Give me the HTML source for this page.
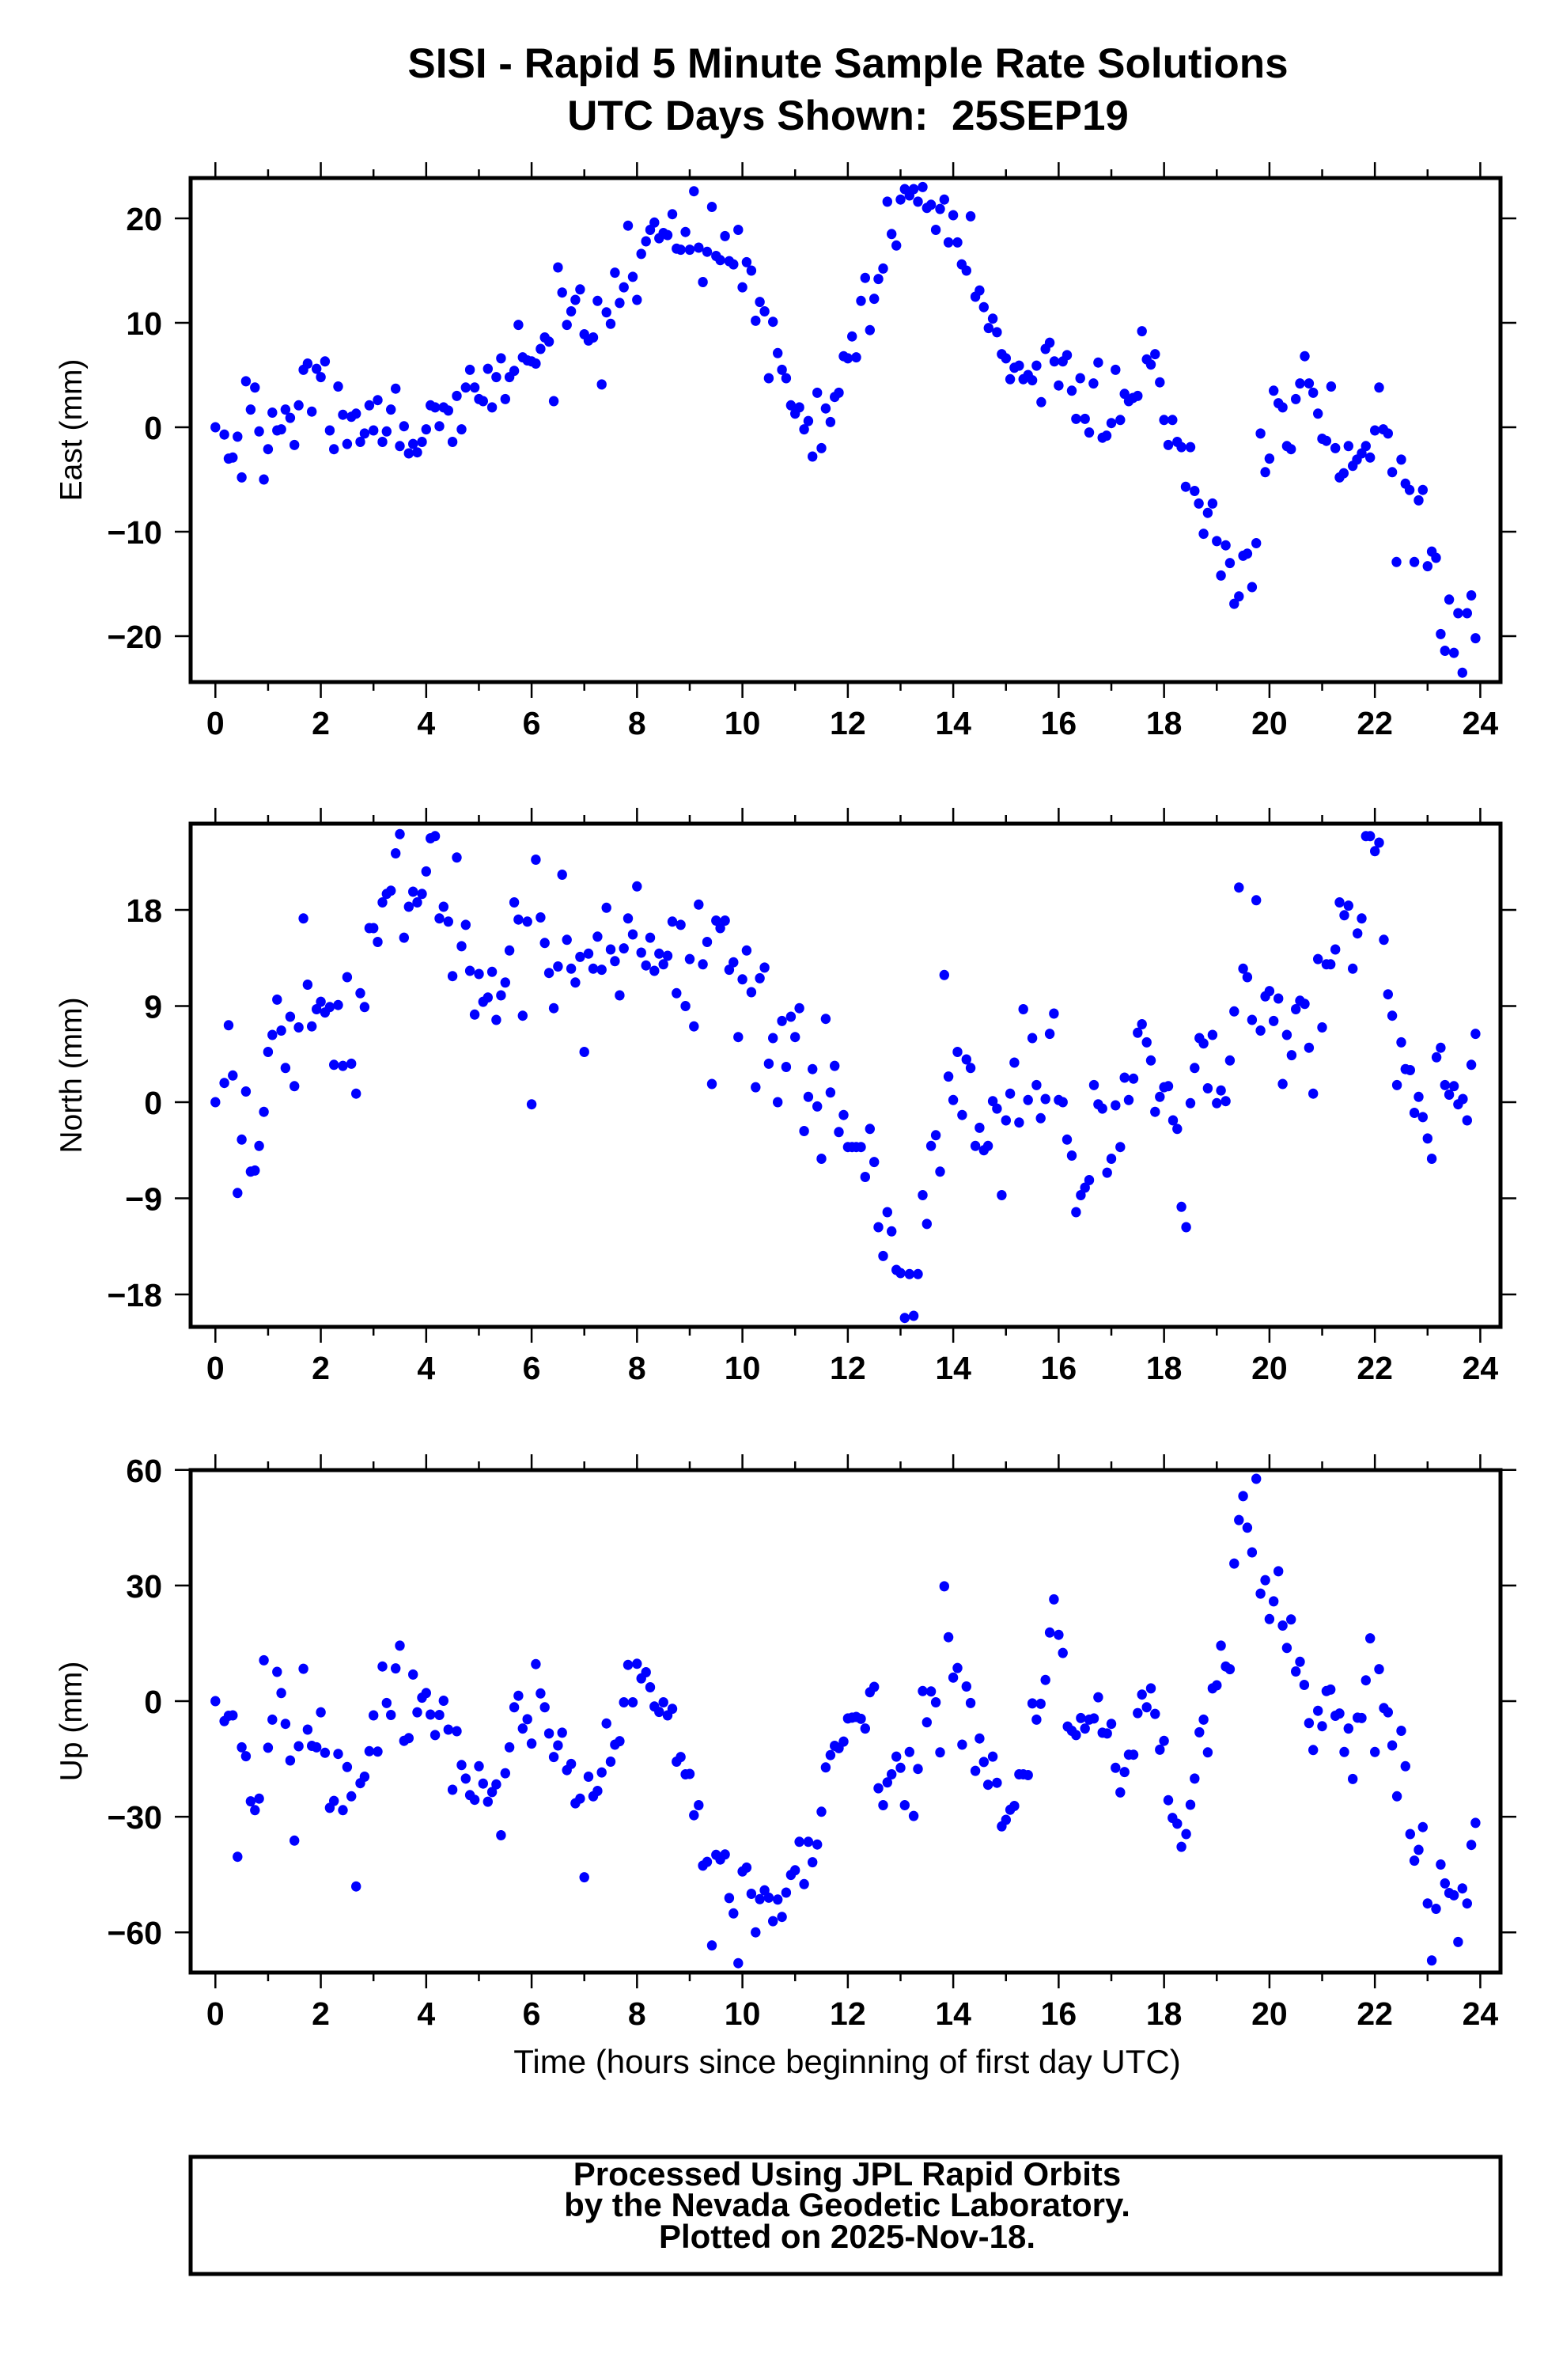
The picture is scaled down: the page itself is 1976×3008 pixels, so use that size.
<!DOCTYPE html>
<html>
<head>
<meta charset="utf-8">
<style>
html,body{margin:0;padding:0;background:#fff;}
svg{display:block;}
text{font-family:"Liberation Sans",Arial,sans-serif;fill:#000;}
.tick{font-size:41px;font-weight:bold;}
.ttl{font-size:53px;font-weight:bold;}
.axt{font-size:39px;}
.xaxt{font-size:42px;}
.foot{font-size:42px;font-weight:bold;}
</style>
</head>
<body>
<svg id="chart" width="1976" height="3008" viewBox="0 0 1976 3008" xmlns="http://www.w3.org/2000/svg">
<rect x="0" y="0" width="1976" height="3008" fill="#fff"/>
<text class="ttl" x="1072" y="98" text-anchor="middle">SISI - Rapid 5 Minute Sample Rate Solutions</text>
<text class="ttl" x="1072" y="164" text-anchor="middle">UTC Days Shown:&#160; 25SEP19</text>
<text class="xaxt" x="1071" y="2620" text-anchor="middle">Time (hours since beginning of first day UTC)</text>
<g>
<rect x="241" y="2726" width="1656" height="148" fill="none" stroke="#000" stroke-width="5"/>
<text class="foot" x="1071" y="2762" text-anchor="middle">Processed Using JPL Rapid Orbits</text>
<text class="foot" x="1071" y="2801" text-anchor="middle">by the Nevada Geodetic Laboratory.</text>
<text class="foot" x="1071" y="2841" text-anchor="middle">Plotted on 2025-Nov-18.</text>
</g>
</svg>
<script>
const xTicks = [0,2,4,6,8,10,12,14,16,18,20,22,24];
const eastTicks = [-20,-10,0,10,20];
const northTicks = [-18,-9,0,9,18];
const upTicks = [-60,-30,0,30,60];

const eastT = [0,.17,.25,.33,.42,.5,.58,.67,.75,.83,.92,1.0,1.08,1.17,1.25,1.33,1.42,1.5,1.58,1.67,1.75,1.83,1.92,2.0,2.08,2.17,2.25,2.33,2.42,2.5,2.58,2.67,2.75,2.83,2.92,3.0,3.08,3.17,3.25,3.33,3.42,3.5,3.58,3.67,3.75,3.83,3.92,4.0,4.08,4.17,4.25,4.33,4.42,4.5,4.58,4.67,4.75,4.83,4.92,5.0,5.08,5.17,5.25,5.33,5.42,5.5,5.58,5.67,5.75,5.83,5.92,6.0,6.08,6.17,6.25,6.33,6.42,6.5,6.58,6.67,6.75,6.83,6.92,7.0,7.08,7.17,7.25,7.33,7.42,7.5,7.58,7.67,7.75,7.83,7.92,8.0,8.08,8.17,8.25,8.33,8.42,8.5,8.58,8.67,8.75,8.83,8.92,9.0,9.08,9.17,9.25,9.33,9.42,9.5,9.58,9.67,9.75,9.83,9.92,10.0,10.08,10.17,10.25,10.33,10.42,10.5,10.58,10.67,10.75,10.83,10.92,11.0,11.08,11.17,11.25,11.33,11.42,11.5,11.58,11.67,11.75,11.83,11.92,12.0,12.08,
12.16,12.25,12.33,12.42,12.5,12.58,12.67,12.75,12.83,12.92,13.0,13.08,13.17,13.25,13.33,13.42,13.5,13.58,13.67,13.75,13.83,13.91,14.0,14.08,14.16,14.25,14.33,14.42,14.5,14.58,14.67,14.75,14.83,14.92,15.0,15.08,15.16,15.25,15.33,15.42,15.5,15.58,15.67,15.75,15.83,15.92,16.0,16.08,16.16,16.25,16.33,16.41,16.5,16.58,16.66,16.75,16.83,16.91,17.0,17.08,17.17,17.25,17.33,17.41,17.5,17.58,17.67,17.75,17.83,17.92,18.0,18.08,18.16,18.25,18.33,18.41,18.5,18.58,18.66,18.75,18.83,18.92,19.0,19.08,19.17,19.25,19.33,19.42,19.5,19.58,19.67,19.75,19.83,19.92,20.0,20.08,20.17,20.25,20.33,20.41,20.5,20.58,20.67,20.75,20.83,20.92,21.0,21.08,21.17,21.25,21.33,21.41,21.5,21.58,21.66,21.75,21.83,21.91,22.0,22.08,22.16,22.25,22.33,22.41,22.5,22.58,22.66,22.75,22.83,22.91,23.0,23.08,23.16,23.25,23.33,23.41,23.5,23.58,23.66,23.75,23.83,23.91];
const eastV = [0,-.7,-3.0,-2.9,-.9,-4.8,4.4,1.7,3.8,-.4,-5.0,-2.1,1.4,-.3,-.2,1.7,.9,-1.7,2.1,5.5,6.1,1.5,5.6,4.8,6.3,-.3,-2.1,3.9,1.2,-1.6,1.0,1.3,-1.4,-.6,2.1,-.3,2.6,-1.4,-.4,1.7,3.7,-1.8,.1,-2.5,-1.6,-2.4,-1.4,-.2,2.1,1.9,.1,1.9,1.6,-1.4,3.0,-.2,3.8,5.5,3.8,2.7,2.5,5.6,1.9,4.8,6.6,2.7,4.8,5.4,9.8,6.7,6.4,6.3,6.1,7.5,8.6,8.2,2.5,15.3,12.9,9.8,11.1,12.2,13.2,8.9,8.3,8.6,12.1,4.1,11.0,9.9,14.8,11.9,13.4,19.3,14.4,12.2,16.6,17.8,18.9,19.6,18.1,18.6,18.4,20.4,17.1,17.0,18.7,17.0,22.6,17.2,13.9,16.8,21.1,16.4,16.0,18.3,15.9,15.6,18.9,13.4,15.8,15.0,10.2,12.0,11.1,4.7,10.1,7.1,5.5,4.7,2.1,1.3,1.9,-.2,.6,-2.8,3.3,-2.0,1.8,.5,2.9,3.3,6.8,6.6,8.7,
6.7,12.1,14.3,9.3,12.3,14.2,15.2,21.6,18.5,17.4,21.8,22.8,22.2,22.8,21.6,23.0,21.0,21.3,18.9,20.9,21.8,17.7,20.3,17.7,15.6,15.0,20.2,12.5,13.1,11.5,9.5,10.4,9.1,7.0,6.6,4.6,5.7,5.9,4.6,5.0,4.5,5.9,2.4,7.5,8.1,6.3,4.0,6.3,6.9,3.5,.8,4.7,.8,-.5,4.2,6.2,-1.0,-.8,.4,5.5,.7,3.2,2.5,2.8,3.0,9.2,6.5,6.0,7.0,4.3,.7,-1.7,.7,-1.4,-1.9,-5.7,-1.9,-6.1,-7.3,-10.2,-8.2,-7.3,-10.9,-14.2,-11.3,-13.0,-16.9,-16.2,-12.3,-12.1,-15.3,-11.1,-.6,-4.3,-3.0,3.5,2.3,1.9,-1.8,-2.1,2.7,4.2,6.8,4.2,3.3,1.3,-1.1,-1.3,3.9,-2.0,-4.8,-4.4,-1.8,-3.7,-3.1,-2.5,-1.8,-2.9,-.3,3.8,-.2,-.6,-4.3,-12.9,-3.1,-5.4,-6.0,-12.9,-7.0,-6.0,-13.3,-11.9,-12.5,-19.8,-21.4,-16.5,-21.6,-17.8,-23.5,-17.8,-16.1,-20.2];

const northT = [0,.17,.25,.33,.42,.5,.58,.67,.75,.83,.92,1.0,1.08,1.17,1.25,1.33,1.42,1.5,1.58,1.67,1.75,1.83,1.92,2.0,2.08,2.17,2.25,2.33,2.42,2.5,2.58,2.67,2.75,2.83,2.92,3.0,3.08,3.17,3.25,3.33,3.42,3.5,3.58,3.67,3.75,3.83,3.92,4.0,4.08,4.17,4.25,4.33,4.42,4.5,4.58,4.67,4.75,4.83,4.92,5.0,5.08,5.17,5.25,5.33,5.42,5.5,5.58,5.67,5.75,5.83,5.92,6.0,6.08,6.17,6.25,6.33,6.42,6.5,6.58,6.67,6.75,6.83,6.92,7.0,7.08,7.17,7.25,7.33,7.42,7.5,7.58,7.67,7.75,7.83,7.92,8.0,8.08,8.17,8.25,8.33,8.42,8.5,8.58,8.67,8.75,8.83,8.92,9.0,9.08,9.17,9.25,9.33,9.42,9.5,9.58,9.67,9.75,9.83,9.92,10.0,10.08,10.17,10.25,10.33,10.42,10.5,10.58,10.67,10.75,10.83,10.92,11.0,11.08,11.17,11.25,11.33,11.42,11.5,11.58,11.67,11.75,11.83,11.92,12.0,12.08,
12.16,12.25,12.33,12.42,12.5,12.58,12.67,12.75,12.83,12.92,13.0,13.08,13.17,13.25,13.33,13.42,13.5,13.58,13.67,13.75,13.83,13.91,14.0,14.08,14.17,14.25,14.33,14.42,14.5,14.58,14.66,14.75,14.83,14.92,15.0,15.08,15.16,15.25,15.33,15.42,15.5,15.58,15.66,15.75,15.83,15.91,16.0,16.08,16.16,16.25,16.33,16.42,16.5,16.58,16.67,16.75,16.83,16.92,17.0,17.08,17.17,17.25,17.33,17.42,17.5,17.58,17.67,17.75,17.83,17.92,18.0,18.08,18.17,18.25,18.33,18.42,18.5,18.58,18.67,18.75,18.83,18.92,19.0,19.08,19.17,19.25,19.33,19.42,19.5,19.58,19.67,19.75,19.83,19.92,20.0,20.08,20.17,20.25,20.33,20.42,20.5,20.58,20.67,20.75,20.83,20.92,21.0,21.08,21.16,21.25,21.33,21.42,21.5,21.58,21.67,21.75,21.83,21.91,22.0,22.08,22.17,22.25,22.33,22.42,22.5,22.58,22.67,22.75,22.83,22.91,23.0,23.08,23.17,23.25,23.33,23.41,23.5,23.58,23.67,23.75,23.83,23.91];
const northV = [0,1.8,7.2,2.5,-8.5,-3.5,1.0,-6.5,-6.4,-4.1,-.9,4.7,6.3,9.6,6.7,3.2,8.0,1.5,7.0,17.2,11.0,7.1,8.7,9.4,8.4,8.9,3.5,9.1,3.4,11.7,3.6,.8,10.2,8.9,16.3,16.3,15.0,18.7,19.5,19.8,23.3,25.1,15.4,18.3,19.7,18.7,19.5,21.6,24.7,24.9,17.2,18.3,16.9,11.8,22.9,14.6,16.6,12.3,8.2,12.0,9.4,9.8,12.2,7.7,10.0,11.2,14.2,18.7,17.1,8.1,16.9,-.2,22.7,17.3,14.9,12.1,8.8,12.7,21.3,15.2,12.5,11.2,13.6,4.7,13.9,12.5,15.5,12.4,18.2,14.3,13.2,10.0,14.4,17.2,15.7,20.2,14.0,12.8,15.4,12.3,13.9,12.9,13.7,16.9,10.2,16.6,9.0,13.4,7.1,18.5,12.9,15.0,1.7,17.0,16.3,17.0,12.4,13.1,6.1,11.5,14.2,10.3,1.4,11.6,12.6,3.6,6.0,0,7.6,3.3,8.0,6.1,8.8,-2.7,.5,3.1,-.4,-5.3,7.8,.9,3.4,-2.8,-1.2,-4.2,-4.2,
-4.2,-4.2,-7.0,-2.5,-5.6,-11.7,-14.4,-10.3,-12.1,-15.7,-16.0,-20.2,-16.1,-20.0,-16.1,-8.7,-11.4,-4.1,-3.1,-6.5,11.9,2.4,.2,4.7,-1.2,4.0,3.2,-4.1,-2.4,-4.5,-4.1,.1,-.6,-8.7,-1.7,.8,3.7,-1.9,8.7,.2,6.0,1.6,-1.5,.3,6.4,8.3,.2,0,-3.5,-5.0,-10.3,-8.7,-8.0,-7.3,1.6,-.2,-.6,-6.6,-5.3,-.3,-4.2,2.3,.2,2.2,6.5,7.3,5.6,3.9,-.9,.5,1.4,1.5,-1.7,-2.5,-9.8,-11.7,-.1,3.2,6.0,5.5,1.3,6.3,-.1,1.1,.1,3.9,8.5,20.1,12.5,11.7,7.7,18.9,6.7,9.9,10.4,7.6,9.7,1.7,6.3,4.4,8.7,9.5,9.2,5.1,.8,13.4,7.0,12.9,12.9,14.3,18.7,17.5,18.4,12.5,15.8,17.2,24.9,24.9,23.5,24.3,15.2,10.1,8.1,1.6,5.6,3.1,3.0,-1.0,.5,-1.4,-3.4,-5.3,4.2,5.1,1.6,.7,1.5,-.2,.3,-1.7,3.5,6.4];

const upT = [0,.17,.25,.33,.42,.5,.58,.67,.75,.83,.92,1.0,1.08,1.17,1.25,1.33,1.42,1.5,1.58,1.67,1.75,1.83,1.92,2.0,2.08,2.17,2.25,2.33,2.42,2.5,2.58,2.67,2.75,2.83,2.92,3.0,3.08,3.17,3.25,3.33,3.42,3.5,3.58,3.67,3.75,3.83,3.92,4.0,4.08,4.17,4.25,4.33,4.42,4.5,4.58,4.67,4.75,4.83,4.92,5.0,5.08,5.17,5.25,5.33,5.42,5.5,5.58,5.67,5.75,5.83,5.92,6.0,6.08,6.17,6.25,6.33,6.42,6.5,6.58,6.67,6.75,6.83,6.92,7.0,7.08,7.17,7.25,7.33,7.42,7.5,7.58,7.67,7.75,7.83,7.92,8.0,8.08,8.17,8.25,8.33,8.42,8.5,8.58,8.67,8.75,8.83,8.92,9.0,9.08,9.17,9.25,9.33,9.42,9.5,9.58,9.67,9.75,9.83,9.92,10.0,10.08,10.17,10.25,10.33,10.42,10.5,10.58,10.67,10.75,10.83,10.92,11.0,11.08,11.17,11.25,11.33,11.42,11.5,11.58,11.67,11.75,11.83,11.92,12.0,12.08,
12.16,12.25,12.33,12.42,12.5,12.58,12.67,12.75,12.83,12.92,13.0,13.08,13.17,13.25,13.33,13.42,13.5,13.58,13.67,13.75,13.83,13.91,14.0,14.08,14.17,14.25,14.33,14.42,14.5,14.58,14.66,14.75,14.83,14.92,15.0,15.08,15.16,15.25,15.33,15.42,15.5,15.58,15.66,15.75,15.83,15.91,16.0,16.08,16.17,16.25,16.33,16.42,16.5,16.58,16.67,16.75,16.83,16.92,17.0,17.08,17.17,17.25,17.33,17.42,17.5,17.58,17.67,17.75,17.83,17.92,18.0,18.08,18.16,18.25,18.33,18.42,18.5,18.58,18.67,18.75,18.83,18.92,19.0,19.08,19.17,19.25,19.33,19.42,19.5,19.58,19.67,19.75,19.83,19.92,20.0,20.08,20.17,20.25,20.33,20.41,20.5,20.58,20.66,20.75,20.83,20.92,21.0,21.08,21.16,21.25,21.33,21.42,21.5,21.58,21.67,21.75,21.83,21.91,22.0,22.08,22.17,22.25,22.33,22.42,22.5,22.58,22.67,22.75,22.83,22.91,23.0,23.08,23.16,23.25,23.33,23.41,23.5,23.58,23.66,23.75,23.83,23.91];
const upV = [0,-5.2,-3.8,-3.7,-40.4,-12.0,-14.3,-26.0,-28.3,-25.3,10.6,-12.1,-4.8,7.6,2.1,-5.9,-15.4,-36.2,-11.7,8.4,-7.4,-11.6,-12.0,-2.9,-13.4,-27.7,-25.9,-13.7,-28.3,-17.1,-24.7,-48.1,-21.3,-19.6,-13.0,-3.7,-13.1,9.0,-.5,-3.6,8.5,14.4,-10.3,-9.6,6.9,-2.9,.9,2.1,-3.5,-8.8,-3.6,.1,-7.4,-23.0,-7.8,-16.6,-20.1,-24.4,-25.6,-16.9,-21.4,-26.1,-23.6,-21.6,-34.8,-18.7,-12.0,-1.6,1.4,-7.1,-4.7,-11.0,9.6,2.0,-1.6,-8.4,-14.5,-11.5,-8.2,-17.9,-16.3,-26.5,-25.3,-45.7,-19.6,-24.7,-23.3,-18.5,-5.8,-15.7,-11.3,-10.4,-.3,9.4,-.3,9.7,5.9,7.5,3.6,-1.4,-2.8,-.3,-3.7,-2.0,-15.7,-14.5,-19.0,-18.9,-29.6,-27.0,-42.7,-41.7,-63.4,-39.9,-41.1,-39.8,-51.1,-55.1,-68.0,-44.2,-43.2,-50.0,-60.0,-51.4,-49.1,-51.0,-57.1,-51.5,-56.0,-49.7,-45.1,-43.9,-36.5,-47.5,-36.5,-41.8,-37.2,-28.7,-17.2,-14.0,-11.6,-12.2,-10.5,-4.5,-4.3,
-4.1,-4.6,-7.1,2.3,3.7,-22.6,-27.0,-21.1,-19.0,-14.4,-17.3,-27.0,-13.2,-29.8,-17.6,2.6,-5.5,2.5,-.3,-13.3,29.8,16.6,6.1,8.6,-11.3,3.8,-.5,-18.1,-9.7,-15.8,-21.7,-14.4,-21.2,-32.5,-30.8,-28.2,-27.2,-19.0,-19.0,-19.2,-.6,-4.8,-.7,5.5,17.8,26.4,17.2,12.5,-6.6,-7.7,-8.8,-4.4,-7.1,-4.8,-4.5,1.0,-8.2,-8.4,-5.9,-17.3,-23.7,-18.4,-13.9,-13.9,-3.1,1.7,-1.6,3.3,-3.3,-12.6,-10.3,-25.7,-30.3,-31.8,-37.8,-34.5,-26.9,-20.1,-8.1,-4.8,-13.3,3.3,4.1,14.4,9.0,8.3,35.7,47.0,53.2,45.0,38.6,57.7,27.9,31.4,21.3,25.9,33.7,19.6,13.8,21.2,7.7,10.2,4.2,-5.7,-12.7,-2.5,-6.5,2.6,3.0,-3.8,-3.2,-13.2,-7.1,-20.2,-4.3,-4.4,5.4,16.3,-13.2,8.3,-1.8,-2.9,-11.5,-24.7,-7.7,-16.9,-34.5,-41.4,-38.6,-32.7,-52.5,-67.3,-53.9,-42.4,-47.3,-49.8,-50.4,-62.5,-48.6,-52.5,-37.3,-31.6];

const NS = 'http://www.w3.org/2000/svg';
const svg = document.getElementById('chart');
const LEFT = 241, RIGHT = 1897;
function xScale(h){ return 272.3 + 66.63*h; }
function mk(tag, attrs, parent){
  const e = document.createElementNS(NS, tag);
  for (const k in attrs) e.setAttribute(k, attrs[k]);
  (parent||svg).appendChild(e);
  return e;
}
const panels = [
  {key:'east', title:'East (mm)', top:225, bottom:862, zero:540, scale:13.2, ticks:eastTicks, T:eastT, V:eastV},
  {key:'north', title:'North (mm)', top:1041, bottom:1677, zero:1393, scale:13.5, ticks:northTicks, T:northT, V:northV},
  {key:'up', title:'Up (mm)', top:1858, bottom:2493, zero:2150, scale:4.87, ticks:upTicks, T:upT, V:upV}
];
panels.forEach(p => {
  const g = mk('g', {});
  
  
  const yScale = v => p.zero - p.scale*v;
  const pg = mk('g', {fill:'#0000ff'}, g);
  
  
  for (let i=0;i<p.T.length;i++){
    const c = mk('ellipse', {cx:xScale(p.T[i]).toFixed(1), cy:yScale(p.V[i]).toFixed(1), rx:6.2, ry:6.5}, pg);
    
    
  }
  const fr = mk('rect', {x:LEFT, y:p.top, width:RIGHT-LEFT, height:p.bottom-p.top, fill:'none', stroke:'#000', 'stroke-width':5}, g);
  
  
  const xg = mk('g', {stroke:'#000', 'stroke-width':2.5}, g);
  
  
  for (let h=0; h<=24; h++){
    const x = xScale(h), L = (h%2===0)?18:9;
    mk('line', {x1:x, x2:x, y1:p.bottom+2, y2:p.bottom+2+L}, xg);
    mk('line', {x1:x, x2:x, y1:p.top-2, y2:p.top-2-L}, xg);
  }
  xTicks.forEach(h => {
    const t = mk('text', {x:xScale(h), y:p.bottom+66, 'text-anchor':'middle', class:'tick', stroke:'none'}, g);
    
    
    t.textContent = h;
  });
  const yg = mk('g', {stroke:'#000', 'stroke-width':2.5}, g);
  
  
  p.ticks.forEach(v => {
    const y = yScale(v);
    mk('line', {x1:LEFT-2, x2:LEFT-20, y1:y, y2:y}, yg);
    mk('line', {x1:RIGHT+2, x2:RIGHT+20, y1:y, y2:y}, yg);
    const t = mk('text', {x:205, y:y+15, 'text-anchor':'end', class:'tick'}, g);
    
    
    t.textContent = (v<0?'\u2212':'') + Math.abs(v);
  });
  const cy = (p.top+p.bottom)/2;
  const yt = mk('text', {x:0, y:0, 'text-anchor':'middle', class:'axt', transform:'translate(103,'+cy+') rotate(-90)'}, g);
  
  
  yt.textContent = p.title;
});
</script>
</body>
</html>
